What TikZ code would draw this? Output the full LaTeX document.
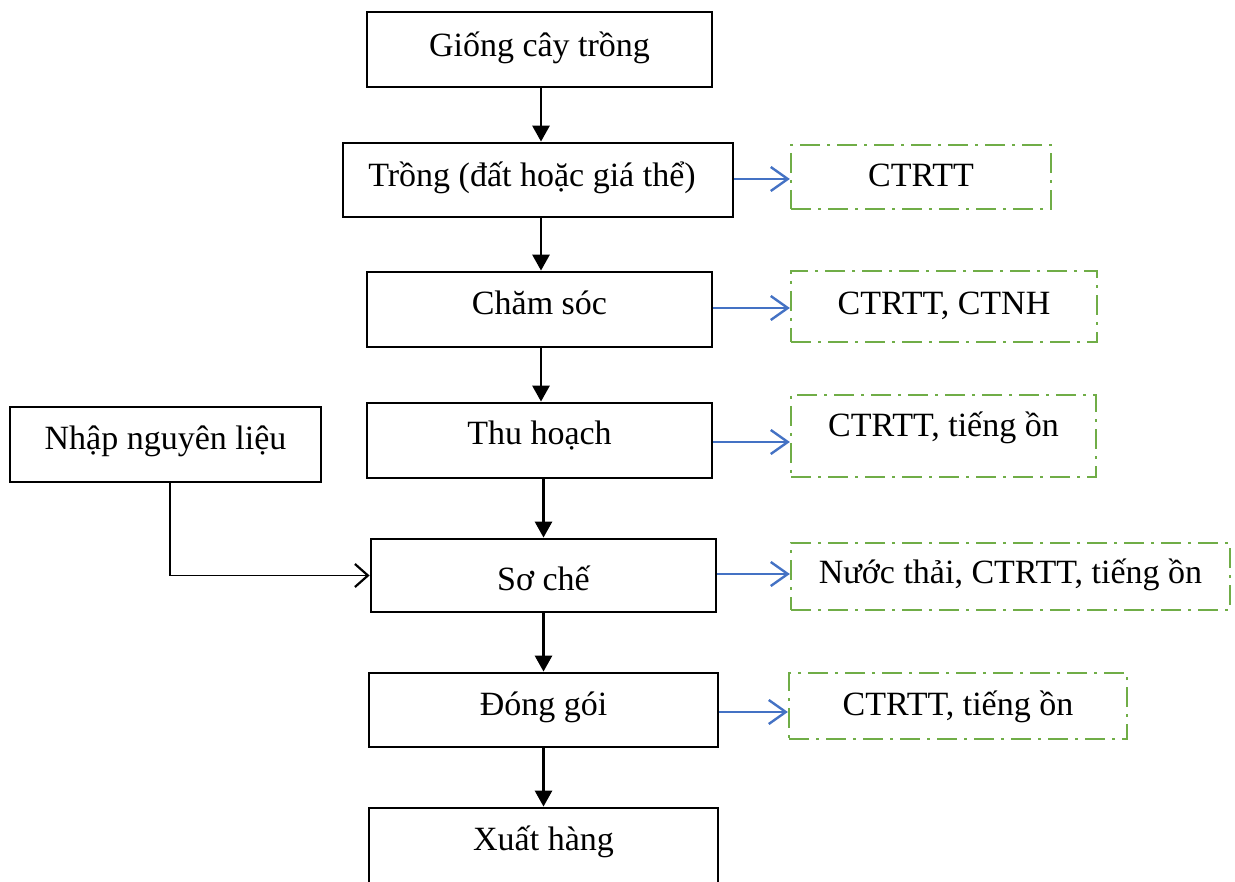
\documentclass[tikz,border=0pt]{standalone}
\usepackage{fontspec}
\setmainfont{Liberation Serif}
\usetikzlibrary{arrows.meta}
\definecolor{flowgreen}{HTML}{70AD47}
\definecolor{flowblue}{HTML}{4472C4}
\begin{document}
\begin{tikzpicture}[x=1pt,y=-1pt,
  % bl=<h>: baseline sits h/2 below the node centre
  bl/.style={text height=#1, text depth=0pt},
  stepbox/.style={draw=black, line width=2.8pt, inner sep=0pt,
    font=\fontsize{34}{40}\selectfont},
  wastebox/.style={draw=flowgreen, line width=2.3pt,
    dash pattern=on 20pt off 7pt on 3pt off 7pt, inner sep=0pt,
    font=\fontsize{34}{40}\selectfont},
  flow/.style={line width=2.8pt, -{Triangle[length=16pt,width=17pt]}},
  feed/.style={line width=1.5pt, -{Straight Barb[length=13pt,width=23pt,line width=2.2pt]}},
  emit/.style={draw=flowblue, line width=2.4pt,
    -{Straight Barb[length=17pt,width=24pt,line width=2.4pt]}}]
\useasboundingbox (0,0) rectangle (1235,882);

% main process chain
\node[stepbox, bl=15pt, minimum width=345pt, minimum height=75pt] (giong) at (539.5,49.5) {Giống cây trồng};
\node[stepbox, bl=14pt, minimum width=390pt, minimum height=74pt] (trong) at (538,180) {Trồng (đất hoặc giá thể)\hspace*{12pt}};
\node[stepbox, bl=11pt, minimum width=345pt, minimum height=75pt] (chamsoc) at (539.5,309.5) {Chăm sóc};
\node[stepbox, bl=9pt, minimum width=345pt, minimum height=75pt] (thuhoach) at (539.5,440.5) {Thu hoạch};
\node[stepbox, bl=29pt, minimum width=345pt, minimum height=73pt] (soche) at (543.5,575.5) {Sơ chế};
\node[stepbox, bl=10pt, minimum width=349pt, minimum height=74pt] (donggoi) at (543.5,710) {Đóng gói};
\node[stepbox, bl=6pt, minimum width=349pt, minimum height=78pt] (xuat) at (543.5,847) {Xuất hàng};

% raw material input
\node[stepbox, bl=11pt, minimum width=311pt, minimum height=75pt] (nhap) at (165.5,444.5) {Nhập nguyên liệu};

% waste outputs
\node[wastebox, bl=19pt, minimum width=260pt, minimum height=64pt] (w1) at (921,177) {CTRTT};
\node[wastebox, bl=17pt, minimum width=306pt, minimum height=71pt] (w2) at (944,306.5) {CTRTT, CTNH};
\node[wastebox, bl=1.5pt, minimum width=305pt, minimum height=82pt] (w3) at (943.5,436) {CTRTT, tiếng ồn};
\node[wastebox, bl=13pt, minimum width=439pt, minimum height=67pt] (w4) at (1010.5,576.5) {Nước thải, CTRTT, tiếng ồn};
\node[wastebox, bl=18pt, minimum width=338pt, minimum height=66pt] (w5) at (958,706) {CTRTT, tiếng ồn};

% vertical flow arrows
\draw[flow] ([xshift=1.5pt]giong.south) -- ([xshift=1.5pt]giong.south |- trong.north);
\draw[flow] ([xshift=1.5pt]chamsoc.north |- trong.south) -- ([xshift=1.5pt]chamsoc.north);
\draw[flow] ([xshift=1.5pt]chamsoc.south) -- ([xshift=1.5pt]chamsoc.south |- thuhoach.north);
\draw[flow] (soche.north |- thuhoach.south) -- (soche.north);
\draw[flow] (soche.south) -- (soche.south |- donggoi.north);
\draw[flow] (donggoi.south) -- (xuat.north);

% input joins at the pre-processing step
\coordinate (bend) at ([xshift=4.5pt]nhap.south |- soche.west);
\draw[feed] ([xshift=4.5pt]nhap.south) -- (bend) -- (soche.west);

% emissions
\draw[emit] ([yshift=1pt]trong.east) -- ([yshift=1pt]trong.east -| w1.west);
\draw[emit] ([yshift=1.5pt]chamsoc.east) -- ([yshift=1.5pt]chamsoc.east -| w2.west);
\draw[emit] ([yshift=-1.5pt]thuhoach.east) -- ([yshift=-1.5pt]thuhoach.east -| w3.west);
\draw[emit] ([yshift=1.5pt]soche.east) -- ([yshift=1.5pt]soche.east -| w4.west);
\draw[emit] ([yshift=-2pt]donggoi.east) -- ([yshift=-2pt]donggoi.east -| w5.west);
\end{tikzpicture}
\end{document}
